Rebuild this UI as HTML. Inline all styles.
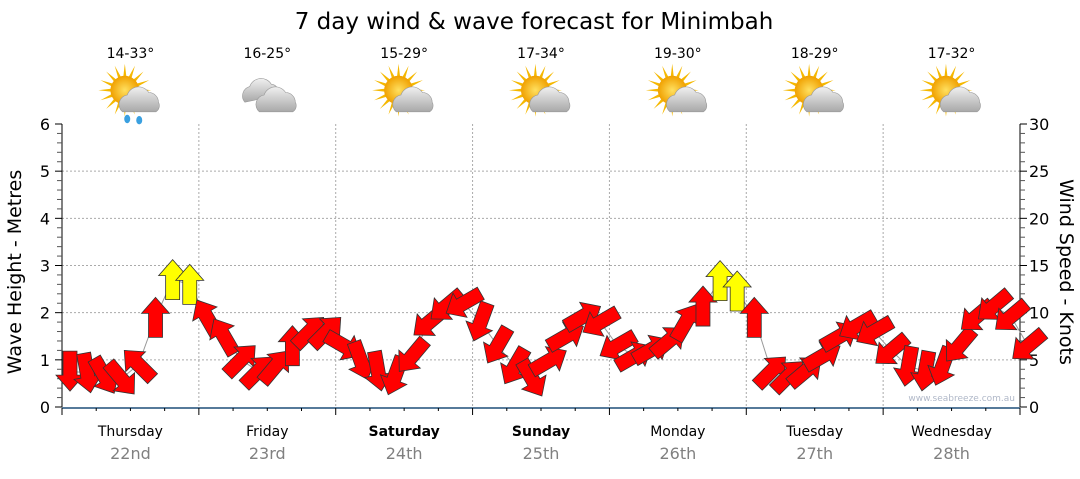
<!DOCTYPE html>
<html><head><meta charset="utf-8">
<style>
html,body{margin:0;padding:0;background:#fff;}
body{width:1080px;height:475px;overflow:hidden;font-family:"DejaVu Sans","Liberation Sans",sans-serif;}
svg text{font-family:"DejaVu Sans","Liberation Sans",sans-serif;}
</style></head>
<body>
<svg id="chart" width="1080" height="475" viewBox="0 0 1080 475" xmlns="http://www.w3.org/2000/svg">
<defs>
<radialGradient id="sun" cx="0.5" cy="0.5" r="0.5"><stop offset="0" stop-color="#ffe060"/><stop offset="1" stop-color="#f0a000"/></radialGradient>
<linearGradient id="cloud" x1="0" y1="0" x2="0" y2="1"><stop offset="0" stop-color="#f0f0f0"/><stop offset="1" stop-color="#a8a8a8"/></linearGradient>
</defs>
<text x="534" y="29" font-size="23" text-anchor="middle" fill="#000">7 day wind &amp; wave forecast for Minimbah</text>
<g id="topg"></g>
<g id="grid"></g>
<g id="axes"></g>
<g id="wave"></g>
<g id="arrows"></g>
<text x="1015" y="401" font-size="9" text-anchor="end" fill="#b0b8c8">www.seabreeze.com.au</text>
<text transform="translate(21,272) rotate(-90)" font-size="19" text-anchor="middle">Wave Height - Metres</text>
<text transform="translate(1060,272) rotate(90)" font-size="19" text-anchor="middle">Wind Speed - Knots</text>
</svg>
<script>
const days = ["Thursday","Friday","Saturday","Sunday","Monday","Tuesday","Wednesday"];
const dates = ["22nd","23rd","24th","25th","26th","27th","28th"];
const boldDays = [false,false,true,true,false,false,false];
const temps = ["14-33°","16-25°","15-29°","17-34°","19-30°","18-29°","17-32°"];
const icons = ["sun-rain","cloud","sun-cloud","sun-cloud","sun-cloud","sun-cloud","sun-cloud"];
const waveTicks = [0,1,2,3,4,5,6];
const windTicks = [0,5,10,15,20,25,30];
// wind speed (knots) every 3 hours
const windSpeed = [3.8,3.6,3.3,3.0,4.5,9.5,13.5,13,
  9.5,7.5,5,3.8,4.3,6.5,8,8,
  6.5,4.9,3.8,3.3,5.4,9,10.7,11,
  9,6.5,4.3,3,4.9,7.5,9.6,9,
  6.5,5.4,6.1,7,9,10.7,13.4,12.3,
  9.5,3.8,3.3,3.8,5.4,7.5,8.6,8,
  6,4.3,3.8,4.3,6.5,9.6,10.7,9.6,6.5];
// direction arrow points to (deg, 0=up, clockwise)
const windDir = [180,170,150,140,-45,0,0,0,
  -30,-30,45,45,40,0,45,45,
  120,160,170,200,220,230,230,240,
  200,210,210,150,60,60,60,240,
  240,60,60,50,30,0,0,0,
  0,45,45,50,60,60,240,240,
  230,190,190,200,220,230,230,230,230];
const yellowThreshold = 12;

const NS="http://www.w3.org/2000/svg";
const X0=62, X1=1020, Y0=407, Y6=124;
const dayW=(X1-X0)/7;
const yW = v => Y0 - v*(Y0-Y6)/6;
const yK = k => Y0 - k*(Y0-Y6)/30;
const xT = i => X0 + 8 + i*dayW/8;
function el(tag, attrs, parent){const e=document.createElementNS(NS,tag);for(const k in attrs)e.setAttribute(k,attrs[k]);parent.appendChild(e);return e;}

const topG=document.getElementById('topg');
function drawIcon(g, cx, cy, type){
  if(type!=="cloud"){
    for(let a=0;a<360;a+=22.5){const r=a*Math.PI/180;
      el('polygon',{points:`${cx-8+Math.cos(r)*22},${cy-4+Math.sin(r)*22} ${cx-8+Math.cos(r+0.12)*11},${cy-4+Math.sin(r+0.12)*11} ${cx-8+Math.cos(r-0.12)*11},${cy-4+Math.sin(r-0.12)*11}`,fill:'#f5b800'},g);}
    el('circle',{cx:cx-8,cy:cy-4,r:12,fill:'url(#sun)'},g);
    el('path',{d:`M${cx-10},${cy+14} a8,8 0 0 1 4,-14 a10,10 0 0 1 18,-2 a8,8 0 0 1 8,8 a6,6 0 0 1 -2,8 z`,fill:'url(#cloud)',stroke:'#999','stroke-width':0.5},g);
    if(type==="sun-rain"){el('ellipse',{cx:cx-6,cy:cy+20,rx:2.5,ry:3.5,fill:'#3aa0e0'},g);el('ellipse',{cx:cx+4,cy:cy+21,rx:2.5,ry:3.5,fill:'#3aa0e0'},g);}
  } else {
    el('path',{d:`M${cx-22},${cy+6} a8,8 0 0 1 4,-13 a10,10 0 0 1 18,-2 a7,7 0 0 1 6,9 z`,fill:'url(#cloud)',stroke:'#999','stroke-width':0.5},g);
    el('path',{d:`M${cx-10},${cy+14} a8,8 0 0 1 4,-14 a10,10 0 0 1 18,-2 a8,8 0 0 1 8,8 a6,6 0 0 1 -2,8 z`,fill:'url(#cloud)',stroke:'#999','stroke-width':0.5},g);
  }
}
days.forEach((d,i)=>{
  const cx=X0+dayW*(i+0.5);
  const t=el('text',{x:cx,y:58,'font-size':14,'text-anchor':'middle'},topG);t.textContent=temps[i];
  
  
  const g=el('g',{transform:`translate(${cx+4},95) scale(1.2) translate(${-(cx+4)},-95)`},topG);
  
  
  drawIcon(g,cx+4,95,icons[i]);
  const dl=el('text',{x:cx,y:436,'font-size':14,'text-anchor':'middle','font-weight':boldDays[i]?'bold':'normal'},topG);dl.textContent=d;
  
  
  const dt=el('text',{x:cx,y:459,'font-size':16,'text-anchor':'middle',fill:'#808080'},topG);dt.textContent=dates[i];
  
  
});

const grid=document.getElementById('grid');
waveTicks.forEach(v=>{ if(v>0&&v<6){const l=el('line',{x1:X0,x2:X1,y1:yW(v),y2:yW(v),stroke:'#aaa','stroke-dasharray':'2,2'},grid);
  
  }});
for(let i=1;i<7;i++){const l=el('line',{x1:X0+dayW*i,x2:X0+dayW*i,y1:Y6,y2:Y0,stroke:'#aaa','stroke-dasharray':'2,2'},grid);
  
  }

const ax=document.getElementById('axes');
el('line',{x1:X0,x2:X0,y1:Y6,y2:Y0,stroke:'#000'},ax);
el('line',{x1:X1,x2:X1,y1:Y6,y2:Y0,stroke:'#000'},ax);
el('line',{x1:X0,x2:X1,y1:Y0+1,y2:Y0+1,stroke:'#1f4e79','stroke-width':1.5},ax);
for(let k=0;k<=30;k++){const v=k*0.2;const y=yW(v);
  el('line',{x1:X0-(k%5==0?7:5),x2:X0,y1:y,y2:y,stroke:k%5==0?'#000':'#555'},ax);}
for(let k=0;k<=30;k++){const y=yK(k);
  el('line',{x1:X1,x2:X1+(k%5==0?7:5),y1:y,y2:y,stroke:k%5==0?'#000':'#555'},ax);}
waveTicks.forEach(v=>{const t=el('text',{x:50,y:yW(v)+6,'font-size':16,'text-anchor':'end'},ax);t.textContent=v;
  
  });
windTicks.forEach(v=>{const t=el('text',{x:1029,y:yK(v)+6,'font-size':16,'text-anchor':'start'},ax);t.textContent=v;
  
  });
for(let i=0;i<=28;i++){const x=X0+i*dayW/4;el('line',{x1:x,x2:x,y1:Y0+1,y2:Y0+(i%4==0?8:4),stroke:'#000'},ax);}

const wv=document.getElementById('wave');
const pts=windSpeed.map((s,i)=>`${xT(i)},${yK(s)}`).join(' ');
const pl=el('polyline',{points:pts,fill:'none',stroke:'#999','stroke-width':1},wv);



const ar=document.getElementById('arrows');
windSpeed.forEach((s,i)=>{
  const x=xT(i), y=yK(s);
  const p=el('polygon',{points:'0,-20 14,-4 7,-4 7,20 -7,20 -7,-4 -14,-4',
    transform:`translate(${x},${y}) rotate(${windDir[i]})`,
    fill:s>yellowThreshold?'#ffff00':'#ff0000',stroke:'#333','stroke-width':0.8},ar);
  
  
});
</script>
</body></html>
